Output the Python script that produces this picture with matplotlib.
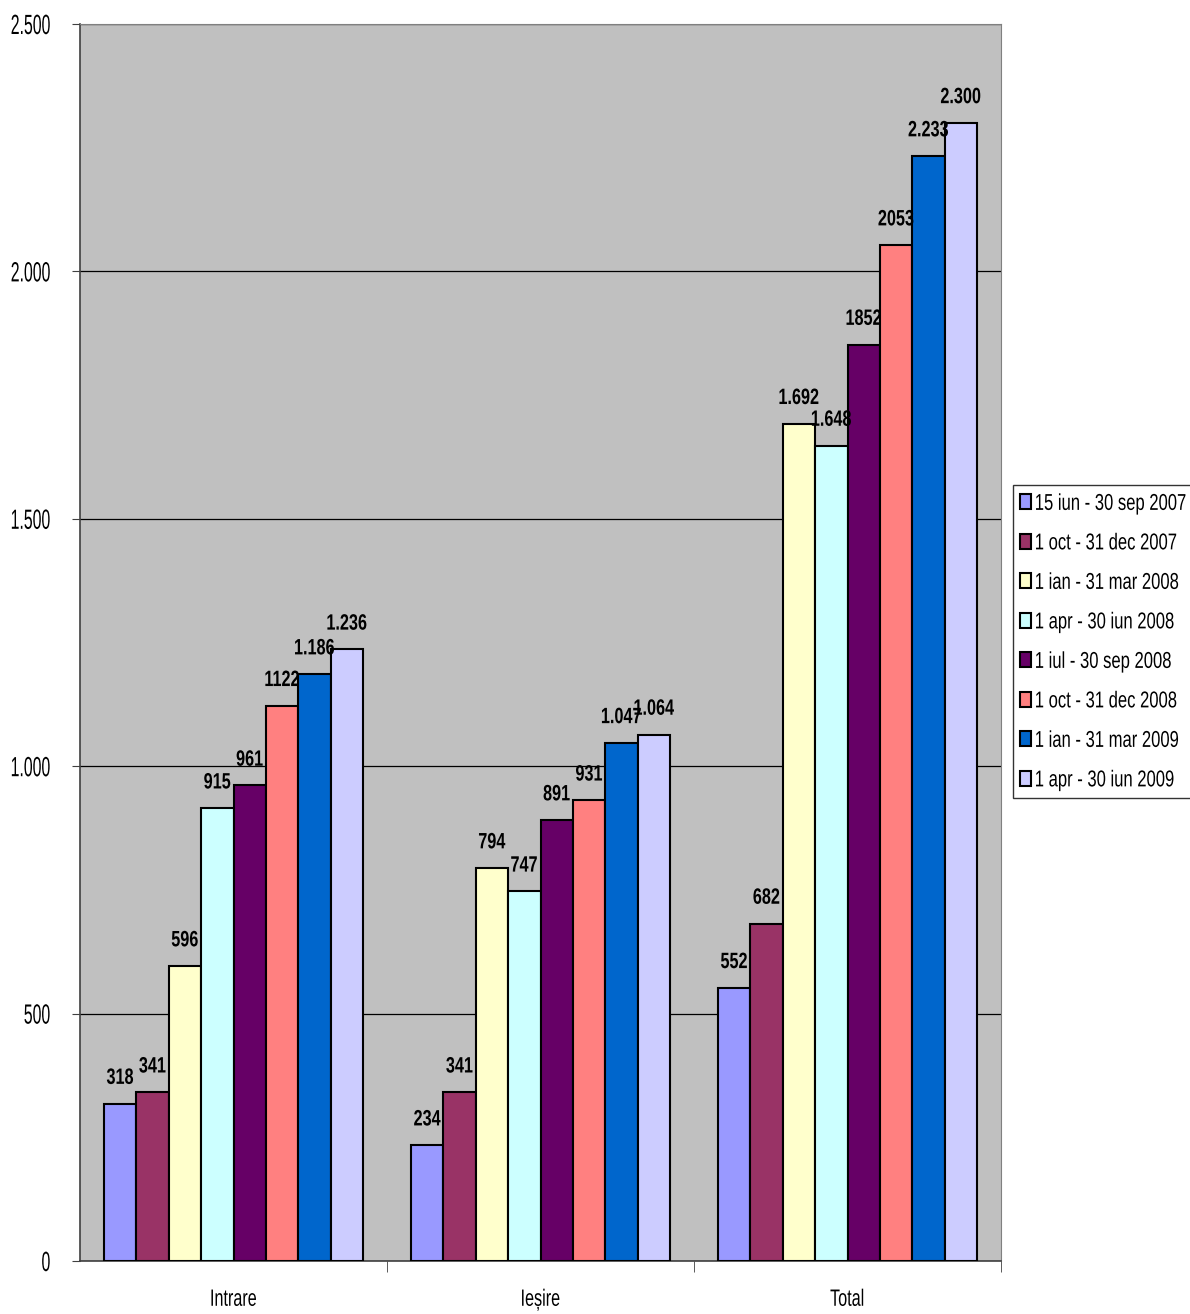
import numpy as np
import matplotlib.pyplot as plt
from matplotlib.ticker import FuncFormatter, FixedLocator
from matplotlib.patheffects import AbstractPathEffect
from matplotlib.path import Path

plt.rcParams['font.family'] = ['Liberation Sans', 'DejaVu Sans']

# date
categories = ["Intrare", "Ieșire", "Total"]
periods = ["15 iun - 30 sep 2007", "1 oct - 31 dec 2007", "1 ian - 31 mar 2008",
           "1 apr - 30 iun 2008", "1 iul - 30 sep 2008", "1 oct - 31 dec 2008",
           "1 ian - 31 mar 2009", "1 apr - 30 iun 2009"]
intrare = [318, 341, 596, 915, 961, 1122, 1186, 1236]
iesire = [234, 341, 794, 747, 891, 931, 1047, 1064]
total = [552, 682, 1692, 1648, 1852, 2053, 2233, 2300]
# etichetele afisate deasupra barelor
lbl_intrare = ["318", "341", "596", "915", "961", "1122", "1.186", "1.236"]
lbl_iesire = ["234", "341", "794", "747", "891", "931", "1.047", "1.064"]
lbl_total = ["552", "682", "1.692", "1.648", "1852", "2053", "2.233", "2.300"]
colors = ["#9999FF", "#993366", "#FFFFCC", "#CCFFFF", "#660066", "#FF8080", "#0066CC", "#CCCCFF"]

values = np.array([intrare, iesire, total])  # categorie x perioada
labels = [lbl_intrare, lbl_iesire, lbl_total]


class Squeeze(AbstractPathEffect):
    """Ingusteaza textul pe orizontala (font tip 'narrow')."""

    def __init__(self, sx, anchor="center"):
        super().__init__()
        self.sx = sx
        self.anchor = anchor

    def draw_path(self, renderer, gc, tpath, affine, rgbFace=None):
        v = tpath.vertices.copy()
        if len(v):
            if self.anchor == "left":
                x0 = v[:, 0].min()
            elif self.anchor == "right":
                x0 = v[:, 0].max()
            else:
                x0 = (v[:, 0].min() + v[:, 0].max()) / 2
            v[:, 0] = x0 + (v[:, 0] - x0) * self.sx
        renderer.draw_path(gc, Path(v, tpath.codes), affine, rgbFace)


fig = plt.figure(figsize=(11.9, 13.14), dpi=100)
ax = fig.add_axes([80 / 1190, 1 - 1261 / 1314, 921 / 1190, (1261 - 24) / 1314])
ax.set_facecolor("#C0C0C0")

x = np.arange(len(categories))
w = 0.1055
n = len(periods)
for i in range(n):
    pos = x + (i - (n - 1) / 2) * w
    bars = ax.bar(pos, values[:, i], w, color=colors[i], edgecolor="black",
                  linewidth=1.5, label=periods[i], zorder=3)
    for j, b in enumerate(bars):
        ax.text(b.get_x() + b.get_width() / 2, b.get_height() + 40, labels[j][i],
                ha="center", va="baseline", fontsize=16, fontweight="bold", zorder=4,
                path_effects=[Squeeze(0.73)])

ax.set_xlim(-0.5, 2.5)
ax.set_ylim(0, 2500)
ax.yaxis.set_major_locator(FixedLocator([0, 500, 1000, 1500, 2000, 2500]))
ax.yaxis.set_major_formatter(FuncFormatter(lambda v, p: f"{int(v):,}".replace(",", ".")))
ax.grid(axis="y", color="black", linewidth=0.9, zorder=1)

ax.set_xticks(x)
ax.set_xticklabels(categories)
ax.tick_params(axis="x", length=0, labelsize=17, pad=20)
ax.set_xticks([0.5, 1.5, 2.5], minor=True)
ax.tick_params(axis="x", which="minor", length=8, color="#404040")
ax.tick_params(axis="y", labelsize=20, length=6, color="#404040", pad=15)
for t in ax.get_yticklabels():
    t.set_path_effects([Squeeze(0.57, "right")])
for t in ax.get_xticklabels():
    t.set_path_effects([Squeeze(0.685)])

for s in ["top", "right"]:
    ax.spines[s].set_color("#808080")
for s in ["left", "bottom"]:
    ax.spines[s].set_color("#404040")
    ax.spines[s].set_linewidth(1.2)

leg = fig.legend(loc="upper left", bbox_to_anchor=(1013 / 1190, 1 - 485 / 1314),
                 fontsize=16.5, frameon=True, fancybox=False, edgecolor="black",
                 handlelength=0.48, handleheight=0.65, handletextpad=0.17,
                 labelspacing=0.72, borderpad=0.3, borderaxespad=0)
leg.get_frame().set_linewidth(1.0)
for t in leg.get_texts():
    t.set_path_effects([Squeeze(0.725, "left")])

fig.savefig("out.png", dpi=100)
